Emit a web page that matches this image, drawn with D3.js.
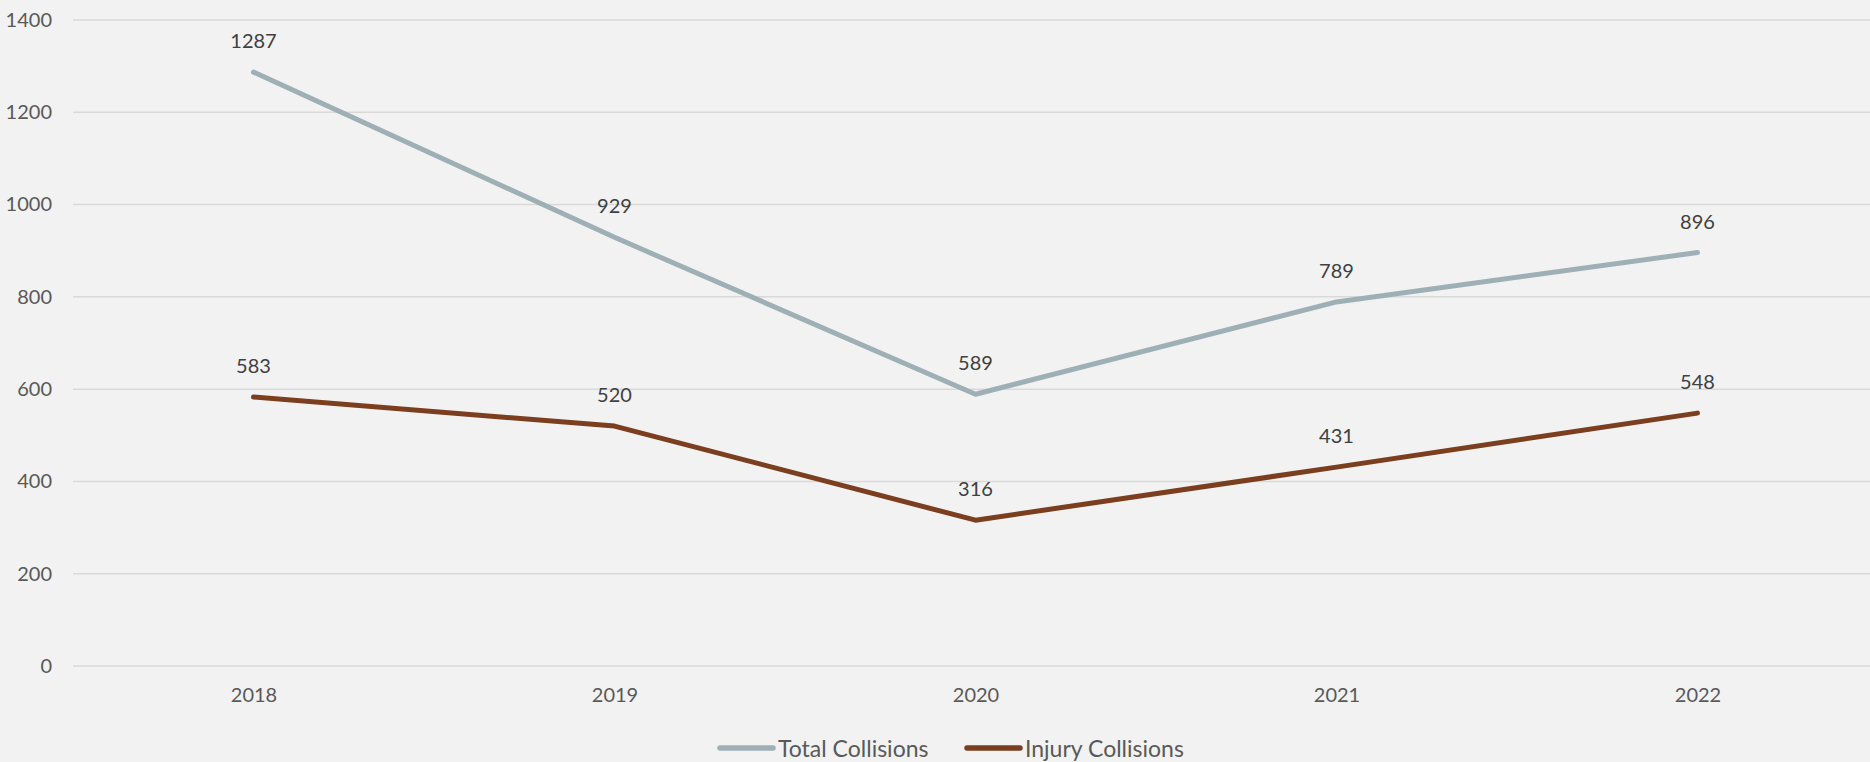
<!DOCTYPE html>
<html>
<head>
<meta charset="utf-8">
<script src="https://cdn.jsdelivr.net/npm/d3@7/dist/d3.min.js"></script>
<style>
  html, body { margin: 0; padding: 0; background: #f2f2f2; }
  svg { display: block; }
  text { font-family: Lato, "Open Sans", sans-serif; }
</style>
</head>
<body>
<svg id="chart" width="1870" height="762"></svg>
<script>
// Collision counts by year
const years = ["2018", "2019", "2020", "2021", "2022"];
const totalCollisions = [1287, 929, 589, 789, 896];
const injuryCollisions = [583, 520, 316, 431, 548];
const yTicks = [0, 200, 400, 600, 800, 1000, 1200, 1400];
const seriesNames = ["Total Collisions", "Injury Collisions"];
const seriesColors = ["#9eb0b6", "#7b3e1e"];

const width = 1870, height = 762;
const margin = { top: 20, right: -8, bottom: 96, left: 73 };

const svg = d3.select("#chart");

const x = d3.scalePoint()
  .domain(years)
  .range([margin.left, width - margin.right])
  .padding(0.5);

const y = d3.scaleLinear()
  .domain([0, 1400])
  .range([height - margin.bottom, margin.top]);

// Horizontal gridlines
svg.append("g")
  .selectAll("line")
  .data(yTicks)
  .join("line")
  .attr("x1", margin.left)
  .attr("x2", width)
  .attr("y1", d => y(d))
  .attr("y2", d => y(d))
  .attr("stroke", "#d9d9d9")
  .attr("stroke-width", 1.5);

// Y axis labels
const yAxis = d3.axisLeft(y).tickValues(yTicks).tickFormat(d3.format("d")).tickSize(0).tickPadding(0);
const yg = svg.append("g")
  .attr("transform", `translate(52,0)`)
  .call(yAxis);
yg.select(".domain").remove();
yg.selectAll("text")
  .attr("fill", "#595959")
  .style("font-size", "20px")
  .style("font-family", "Lato, 'Open Sans', sans-serif");

// X axis labels
const xAxis = d3.axisBottom(x).tickSize(0).tickPadding(0);
const xg = svg.append("g")
  .attr("transform", `translate(0,${y(0) + 22})`)
  .call(xAxis);
xg.select(".domain").remove();
xg.selectAll("text")
  .attr("fill", "#595959")
  .style("font-size", "20px")
  .style("font-family", "Lato, 'Open Sans', sans-serif");

const series = [totalCollisions, injuryCollisions];

const line = d3.line()
  .x((d, i) => x(years[i]))
  .y(d => y(d));

series.forEach((vals, s) => {
  svg.append("path")
    .datum(vals)
    .attr("d", line)
    .attr("fill", "none")
    .attr("stroke", seriesColors[s])
    .attr("stroke-width", 5)
    .attr("stroke-linecap", "round")
    .attr("stroke-linejoin", "round");

  svg.append("g")
    .selectAll("text")
    .data(vals)
    .join("text")
    .attr("x", (d, i) => x(years[i]))
    .attr("y", d => y(d) - 24)
    .attr("text-anchor", "middle")
    .attr("fill", "#404040")
    .style("font-size", "20px")
    .text(d => d);
});

// Legend
const legend = svg.append("g").attr("transform", `translate(0,757)`);
const legendX = [720, 967];
seriesNames.forEach((name, s) => {
  legend.append("line")
    .attr("x1", legendX[s])
    .attr("x2", legendX[s] + 53)
    .attr("y1", -9)
    .attr("y2", -9)
    .attr("stroke", seriesColors[s])
    .attr("stroke-width", 5.5)
    .attr("stroke-linecap", "round");
  legend.append("text")
    .attr("x", legendX[s] + 58)
    .attr("y", 0)
    .attr("fill", "#595959")
    .style("font-size", "23px")
    .text(name);
});
</script>
</body>
</html>
